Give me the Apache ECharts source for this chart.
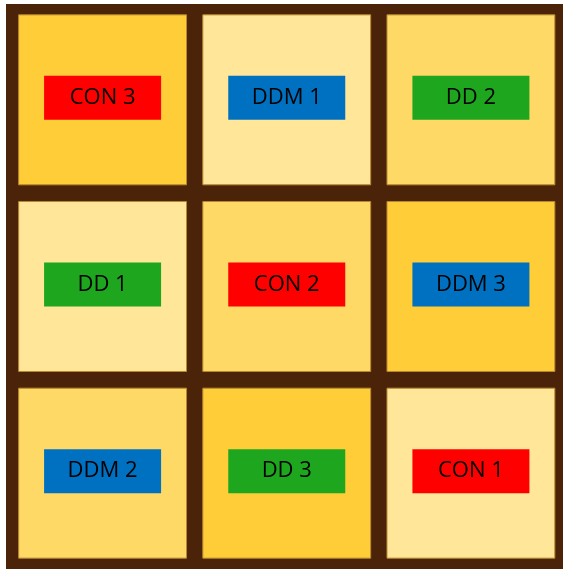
<!DOCTYPE html>
<html>
<head>
<meta charset="utf-8">
<script src="https://cdn.jsdelivr.net/npm/echarts@6/dist/echarts.min.js"></script>
<style>
html,body{margin:0;padding:0;background:#fff;}
#chart{width:563px;height:569px;}
</style>
</head>
<body>
<div id="chart"></div>
<script>
// Data
const colCategories = ['C1', 'C2', 'C3'];
const rowCategories = ['R1', 'R2', 'R3'];
const cellLabels = ['CON 3', 'DDM 1', 'DD 2', 'DD 1', 'CON 2', 'DDM 3', 'DDM 2', 'DD 3', 'CON 1'];
const cellCol = [0, 1, 2, 0, 1, 2, 0, 1, 2];
const cellRow = [0, 0, 0, 1, 1, 1, 2, 2, 2];
const cellShade = [3, 1, 2, 1, 2, 3, 2, 3, 1]; // 1 light, 2 medium, 3 dark

const shadeColors = {1: '#FFE699', 2: '#FFD966', 3: '#FFCD37'};
const groupColors = {CON: '#FF0000', DDM: '#0070C0', DD: '#1DA61E'};

const data = cellLabels.map((lab, i) => ({
  value: [cellCol[i], cellRow[i], cellShade[i]],
  name: lab
}));

const chart = echarts.init(document.getElementById('chart'), null, {renderer: 'canvas'});
chart.setOption({
  animation: false,
  backgroundColor: '#ffffff',
  graphic: [{
    type: 'rect', z: -10,
    shape: {x: 6, y: 4, width: 557, height: 565},
    style: {fill: '#4B2309'}
  }],
  grid: {left: 10.5, top: 6.5, width: 553, height: 560},
  xAxis: {type: 'category', data: colCategories, show: false},
  yAxis: {type: 'category', data: rowCategories, inverse: true, show: false},
  series: [{
    type: 'custom',
    data: data,
    renderItem: function (params, api) {
      const c = api.coord([api.value(0), api.value(1)]);
      const s = api.size([1, 1]);
      const w = s[0] - 16.3, h = s[1] - 16.7;
      const idx = params.dataIndex;
      const label = cellLabels[idx];
      const grp = label.split(' ')[0];
      const bw = 117, bh = 44;
      return {
        type: 'group',
        children: [
          {type: 'rect', shape: {x: c[0] - w / 2, y: c[1] - h / 2, width: w, height: h},
           style: {fill: shadeColors[api.value(2)], stroke: '#B8892F', lineWidth: 1}},
          {type: 'rect', shape: {x: c[0] - bw / 2, y: c[1] - bh / 2 - 2, width: bw, height: bh},
           style: {fill: groupColors[grp]}},
          {type: 'text', x: c[0], y: c[1] - 2,
           style: {text: label, fill: '#000', font: '22px "Open Sans", sans-serif',
                   align: 'center', verticalAlign: 'middle'}}
        ]
      };
    }
  }]
});
</script>
</body>
</html>
